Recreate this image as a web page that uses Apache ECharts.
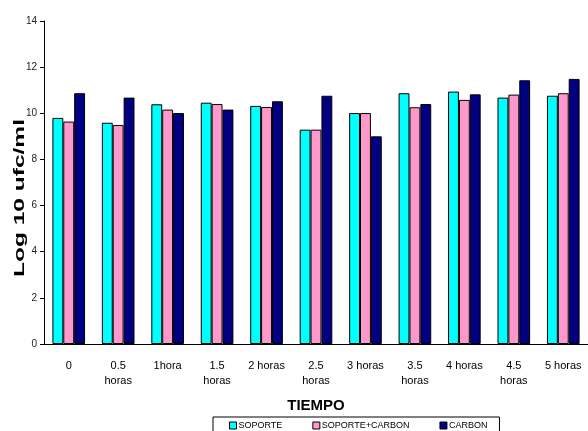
<!DOCTYPE html>
<html>
<head>
<meta charset="utf-8">
<script src="https://cdn.jsdelivr.net/npm/echarts@6/dist/echarts.min.js"></script>
<style>
  html, body { margin: 0; padding: 0; background: #fff; }
  #chart { width: 588px; height: 431px; }
</style>
</head>
<body>
<div id="chart"></div>
<script>
// Sampling times (x axis categories)
const tiempos = ['0', '0.5\nhoras', '1hora', '1.5\nhoras', '2 horas', '2.5\nhoras',
                 '3 horas', '3.5\nhoras', '4 horas', '4.5\nhoras', '5 horas'];

// Log10 ufc/ml for each treatment
const soporte       = [9.80, 9.59, 10.39, 10.46, 10.32, 9.29, 10.01, 10.87, 10.94, 10.68, 10.76];
const soporteCarbon = [9.64, 9.49, 10.16, 10.40, 10.27, 9.29, 10.01, 10.26, 10.58, 10.81, 10.87];
const carbon        = [10.87, 10.68, 10.01, 10.16, 10.52, 10.76, 9.00, 10.40, 10.82, 11.43, 11.49];

const seriesNames = ['SOPORTE', 'SOPORTE+CARBON', 'CARBON'];
const seriesColors = ['#00FFFF', '#FF99CC', '#000080'];
const yTicks = { min: 0, max: 14, interval: 2 };

const font = '"Liberation Sans", Arial, sans-serif';
const chart = echarts.init(document.getElementById('chart'));

function bar(name, data, color) {
  return {
    name: name,
    type: 'bar',
    data: data,
    barGap: '0%',
    barCategoryGap: '34%',
    itemStyle: { color: color, borderColor: '#000', borderWidth: 1 },
    emphasis: { disabled: true }
  };
}

chart.setOption({
  animation: false,
  backgroundColor: '#fff',
  textStyle: { fontFamily: font },
  grid: { left: 44, top: 21, bottom: 87, width: 552, containLabel: false },
  xAxis: {
    type: 'category',
    data: tiempos,
    name: 'TIEMPO',
    nameLocation: 'middle',
    nameGap: 54,
    nameTextStyle: { fontFamily: font, fontSize: 15, fontWeight: 'bold', color: '#000' },
    axisLine: { lineStyle: { color: '#000', width: 1 } },
    axisTick: { alignWithLabel: false, length: 4, lineStyle: { color: '#000' } },
    axisLabel: {
      interval: 0, margin: 14, fontSize: 11, lineHeight: 15, color: '#000',
      fontFamily: font
    }
  },
  yAxis: {
    type: 'value',
    min: yTicks.min, max: yTicks.max, interval: yTicks.interval,
    splitLine: { show: false },
    axisLine: { show: true, lineStyle: { color: '#000', width: 1 } },
    axisTick: { show: true, length: 4, lineStyle: { color: '#000' } },
    axisLabel: { margin: 7, fontSize: 10, color: '#222', fontFamily: font }
  },
  legend: {
    left: 213, top: 417,
    padding: [4, 12, 6, 16],
    borderColor: '#000', borderWidth: 1,
    itemWidth: 7, itemHeight: 7, itemGap: 30,
    icon: 'rect',
    itemStyle: { borderColor: '#000', borderWidth: 1 },
    textStyle: { fontSize: 9, color: '#000', fontFamily: font, padding: [0, 0, 0, -3] },
    data: seriesNames
  },
  graphic: [{
    type: 'text',
    x: 20, y: 198,
    rotation: Math.PI / 2,
    scaleX: 1.75,
    style: {
      text: 'Log 10 ufc/ml',
      font: 'bold 14px ' + font,
      fill: '#000',
      align: 'center',
      verticalAlign: 'middle'
    }
  }],
  series: [
    bar(seriesNames[0], soporte, seriesColors[0]),
    bar(seriesNames[1], soporteCarbon, seriesColors[1]),
    bar(seriesNames[2], carbon, seriesColors[2])
  ]
});
</script>
</body>
</html>
